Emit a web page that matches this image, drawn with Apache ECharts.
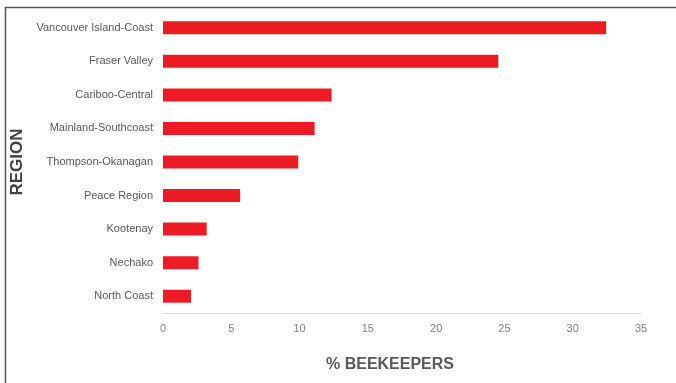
<!DOCTYPE html>
<html>
<head>
<meta charset="utf-8">
<script src="https://cdn.jsdelivr.net/npm/echarts@6/dist/echarts.min.js"></script>
<style>
  html, body { margin: 0; padding: 0; background: #fff; }
  #chart { width: 676px; height: 383px; }
</style>
</head>
<body>
<div id="chart"></div>
<script>
// Share of beekeepers by region (listed bottom to top)
const regions = [
  'North Coast', 'Nechako', 'Kootenay', 'Peace Region', 'Thompson-Okanagan',
  'Mainland-Southcoast', 'Cariboo-Central', 'Fraser Valley', 'Vancouver Island-Coast'
];
const percentBeekeepers = [2.05, 2.6, 3.2, 5.65, 9.9, 11.1, 12.35, 24.55, 32.45];
const xTicks = [0, 5, 10, 15, 20, 25, 30, 35];

const chart = echarts.init(document.getElementById('chart'), null, { renderer: 'canvas' });

chart.setOption({
  animation: false,
  textStyle: { fontFamily: 'Liberation Sans, Arial, sans-serif' },
  graphic: [{
    type: 'rect',
    shape: { x: 5.5, y: 7.5, width: 760, height: 460 },
    style: { fill: 'none', stroke: '#555555', lineWidth: 1.5 },
    silent: true,
    z: -1
  }],
  grid: { left: 163, right: 35, top: 11, bottom: 70, containLabel: false },
  xAxis: {
    type: 'value',
    min: xTicks[0],
    max: xTicks[xTicks.length - 1],
    interval: 5,
    name: '% BEEKEEPERS',
    nameLocation: 'middle',
    nameGap: 44,
    nameTextStyle: {
      fontSize: 16, fontWeight: 'bold', color: '#595959',
      padding: [0, 24, 0, 0]
    },
    axisLine: { show: true, lineStyle: { color: '#d9d9d9', width: 1 } },
    axisTick: { show: false },
    splitLine: { show: false },
    axisLabel: { color: '#7f7f7f', fontSize: 11, margin: 10 }
  },
  yAxis: {
    type: 'category',
    data: regions,
    name: 'REGION',
    nameLocation: 'middle',
    nameRotate: 90,
    nameGap: 132,
    nameTextStyle: { fontSize: 17, fontWeight: 'bold', color: '#404040' },
    axisLine: { show: false },
    axisTick: { show: false },
    axisLabel: { color: '#595959', fontSize: 11, margin: 10 }
  },
  series: [{
    type: 'bar',
    data: percentBeekeepers,
    barWidth: 13,
    itemStyle: { color: '#ed1c24' }
  }]
});
</script>
</body>
</html>
